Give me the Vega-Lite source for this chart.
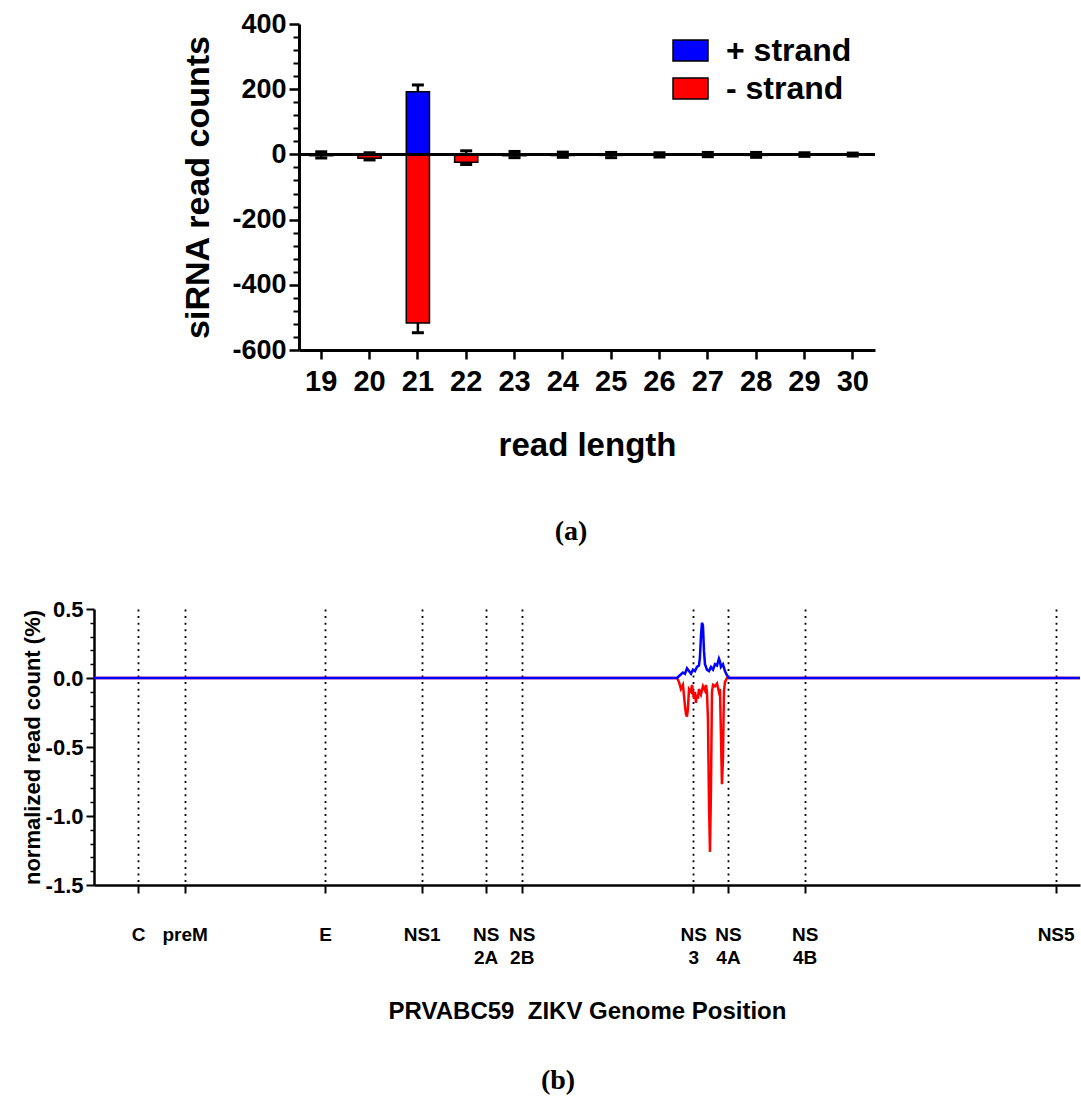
{
  "$schema": "https://vega.github.io/schema/vega-lite/v6.json",
  "background": "white",
  "padding": {"left": 21, "top": 10, "right": 0, "bottom": 0},
  "bounds": "flush",
  "center": true,
  "spacing": 259,
  "config": {
    "view": {"stroke": null},
    "font": "Liberation Sans",
    "axis": {
      "labelFont": "Liberation Sans",
      "titleFont": "Liberation Sans",
      "labelColor": "black",
      "titleColor": "black",
      "domainColor": "black",
      "tickColor": "black",
      "labelFontWeight": "bold",
      "titleFontWeight": "bold",
      "grid": false
    }
  },
  "datasets": {
    "bars": [
      {"length": 19, "strand": "+ strand", "value": 2, "errEnd": 8},
      {"length": 19, "strand": "- strand", "value": -4, "errEnd": -11},
      {"length": 20, "strand": "+ strand", "value": 1, "errEnd": 5},
      {"length": 20, "strand": "- strand", "value": -12, "errEnd": -17},
      {"length": 21, "strand": "+ strand", "value": 192, "errEnd": 213},
      {"length": 21, "strand": "- strand", "value": -517, "errEnd": -547},
      {"length": 22, "strand": "+ strand", "value": 2, "errEnd": 11},
      {"length": 22, "strand": "- strand", "value": -24, "errEnd": -31},
      {"length": 23, "strand": "+ strand", "value": 2, "errEnd": 9},
      {"length": 23, "strand": "- strand", "value": -4, "errEnd": -10},
      {"length": 24, "strand": "+ strand", "value": 1, "errEnd": 7},
      {"length": 24, "strand": "- strand", "value": -3, "errEnd": -9},
      {"length": 25, "strand": "+ strand", "value": 1, "errEnd": 6},
      {"length": 25, "strand": "- strand", "value": -3, "errEnd": -10},
      {"length": 26, "strand": "+ strand", "value": 1, "errEnd": 5},
      {"length": 26, "strand": "- strand", "value": -2, "errEnd": -8},
      {"length": 27, "strand": "+ strand", "value": 1, "errEnd": 6},
      {"length": 27, "strand": "- strand", "value": -2, "errEnd": -7},
      {"length": 28, "strand": "+ strand", "value": 1, "errEnd": 6},
      {"length": 28, "strand": "- strand", "value": -3, "errEnd": -9},
      {"length": 29, "strand": "+ strand", "value": 1, "errEnd": 5},
      {"length": 29, "strand": "- strand", "value": -1, "errEnd": -6},
      {"length": 30, "strand": "+ strand", "value": 1, "errEnd": 4},
      {"length": 30, "strand": "- strand", "value": -1, "errEnd": -5}
    ],
    "plus": [
      {"pos": 0, "val": 0}, {"pos": 6386, "val": 0}, {"pos": 6418, "val": 0.02},
      {"pos": 6451, "val": 0.04}, {"pos": 6473, "val": 0.03}, {"pos": 6495, "val": 0.07},
      {"pos": 6517, "val": 0.05}, {"pos": 6539, "val": 0.03}, {"pos": 6561, "val": 0.06},
      {"pos": 6583, "val": 0.05}, {"pos": 6604, "val": 0.08}, {"pos": 6626, "val": 0.09},
      {"pos": 6637, "val": 0.15}, {"pos": 6648, "val": 0.3}, {"pos": 6659, "val": 0.4},
      {"pos": 6670, "val": 0.38}, {"pos": 6681, "val": 0.2}, {"pos": 6692, "val": 0.1},
      {"pos": 6714, "val": 0.06}, {"pos": 6736, "val": 0.05}, {"pos": 6758, "val": 0.08},
      {"pos": 6780, "val": 0.06}, {"pos": 6802, "val": 0.1}, {"pos": 6824, "val": 0.09},
      {"pos": 6845, "val": 0.14}, {"pos": 6856, "val": 0.12}, {"pos": 6867, "val": 0.08},
      {"pos": 6889, "val": 0.1}, {"pos": 6911, "val": 0.05}, {"pos": 6933, "val": 0.02},
      {"pos": 6955, "val": 0}, {"pos": 10800, "val": 0}
    ],
    "minus": [
      {"pos": 0, "val": 0}, {"pos": 6386, "val": 0}, {"pos": 6408, "val": -0.03},
      {"pos": 6429, "val": -0.08}, {"pos": 6451, "val": -0.05}, {"pos": 6473, "val": -0.2},
      {"pos": 6484, "val": -0.26}, {"pos": 6495, "val": -0.28}, {"pos": 6506, "val": -0.22},
      {"pos": 6517, "val": -0.08}, {"pos": 6539, "val": -0.1}, {"pos": 6550, "val": -0.05},
      {"pos": 6572, "val": -0.15}, {"pos": 6583, "val": -0.1}, {"pos": 6593, "val": -0.18},
      {"pos": 6604, "val": -0.12}, {"pos": 6615, "val": -0.15}, {"pos": 6626, "val": -0.08},
      {"pos": 6648, "val": -0.12}, {"pos": 6670, "val": -0.06}, {"pos": 6692, "val": -0.09},
      {"pos": 6703, "val": -0.05}, {"pos": 6714, "val": -0.1}, {"pos": 6725, "val": -0.3},
      {"pos": 6736, "val": -0.9}, {"pos": 6747, "val": -1.26}, {"pos": 6758, "val": -0.8},
      {"pos": 6769, "val": -0.1}, {"pos": 6780, "val": -0.05}, {"pos": 6802, "val": -0.06},
      {"pos": 6824, "val": -0.04}, {"pos": 6845, "val": -0.1}, {"pos": 6856, "val": -0.08},
      {"pos": 6867, "val": -0.4}, {"pos": 6878, "val": -0.77}, {"pos": 6889, "val": -0.6},
      {"pos": 6900, "val": -0.1}, {"pos": 6911, "val": -0.03}, {"pos": 6933, "val": 0},
      {"pos": 10800, "val": 0}
    ]
  },
  "vconcat": [
    {
      "width": 576,
      "height": 326,
      "title": {"text": "(a)", "orient": "bottom", "font": "Liberation Serif", "fontSize": 28, "fontWeight": "bold", "color": "black", "offset": 56, "dx": -16, "frame": "group", "anchor": "middle"},
      "data": {"name": "bars"},
      "layer": [
        {
          "mark": {"type": "bar", "stroke": "black", "strokeWidth": 1.5},
          "encoding": {
            "x": {
              "field": "length", "type": "ordinal",
              "scale": {"paddingInner": 0.52, "paddingOuter": 0.22},
              "axis": {
                "title": "read length", "labelAngle": 0, "labelFontSize": 29, "titleFontSize": 33,
                "tickSize": 9, "tickWidth": 2.5, "domainWidth": 3, "labelPadding": 8, "titlePadding": 33
              }
            },
            "y": {
              "field": "value", "type": "quantitative", "stack": null,
              "scale": {"domain": [-600, 400], "nice": false},
              "axis": {
                "title": "siRNA read counts", "values": [-600, -400, -200, 0, 200, 400],
                "labelExpr": "replace(datum.label, '\u2212', '-')",
                "labelFontSize": 27, "titleFontSize": 34, "tickSize": 10, "tickWidth": 2.5,
                "domainWidth": 3, "labelPadding": 3, "titlePadding": 16
              }
            },
            "color": {
              "field": "strand", "type": "nominal",
              "scale": {"domain": ["+ strand", "- strand"], "range": ["#0000ff", "#ff0000"]},
              "legend": {
                "orient": "none", "legendX": 578, "legendY": 8, "title": null,
                "symbolType": "M-1,-0.6H1V0.6H-1Z", "symbolSize": 1225,
                "symbolStrokeColor": "black", "symbolStrokeWidth": 1.5, "symbolOpacity": 1,
                "labelFont": "Liberation Sans", "labelFontSize": 32, "labelFontWeight": "bold",
                "labelColor": "black", "labelOffset": 17, "rowPadding": 3
              }
            }
          }
        },
        {
          "mark": {"type": "rule", "color": "black", "strokeWidth": 2.5},
          "encoding": {
            "x": {"field": "length", "type": "ordinal"},
            "y": {"field": "value", "type": "quantitative", "axis": null},
            "y2": {"field": "errEnd"}
          }
        },
        {
          "mark": {"type": "tick", "color": "black", "thickness": 3, "size": 12, "opacity": 1},
          "encoding": {
            "x": {"field": "length", "type": "ordinal"},
            "y": {"field": "errEnd", "type": "quantitative", "axis": null}
          }
        },
        {
          "mark": {"type": "rule", "color": "black", "strokeWidth": 2.5},
          "encoding": {
            "y": {
              "datum": 0, "type": "quantitative",
              "axis": {
                "orient": "left", "title": null, "labels": false, "domain": false,
                "tickSize": 6, "tickWidth": 2,
                "values": [-560, -520, -480, -440, -360, -320, -280, -240, -160, -120, -80, -40, 40, 80, 120, 160, 240, 280, 320, 360]
              }
            }
          }
        }
      ],
      "resolve": {"axis": {"y": "independent"}}
    },
    {
      "width": 986,
      "height": 276,
      "title": {"text": "(b)", "orient": "bottom", "font": "Liberation Serif", "fontSize": 28, "fontWeight": "bold", "color": "black", "offset": 44, "dx": -29, "frame": "group", "anchor": "middle"},
      "layer": [
        {
          "data": {"name": "minus"},
          "mark": {"type": "line", "color": "#ff0000", "strokeWidth": 2.5},
          "encoding": {
            "x": {
              "field": "pos", "type": "quantitative",
              "scale": {"domain": [0, 10800], "nice": false},
              "axis": {
                "title": "PRVABC59\u00a0 ZIKV Genome Position",
                "values": [482, 993, 2530, 3589, 4290, 4685, 6564, 6944, 7784, 10533],
                "labelExpr": "datum.value == 482 ? 'C' : datum.value == 993 ? 'preM' : datum.value == 2530 ? 'E' : datum.value == 3589 ? 'NS1' : datum.value == 4290 ? ['NS','2A'] : datum.value == 4685 ? ['NS','2B'] : datum.value == 6564 ? ['NS','3'] : datum.value == 6944 ? ['NS','4A'] : datum.value == 7784 ? ['NS','4B'] : 'NS5'",
                "labelOverlap": false, "labelFlush": false, "labelFontSize": 19, "labelLineHeight": 23,
                "labelPadding": 32, "tickSize": 8, "tickWidth": 2, "domainWidth": 2.5,
                "grid": true, "gridColor": "black", "gridDash": [2, 4.6], "gridWidth": 1.8,
                "titleFontSize": 24, "titlePadding": 32
              }
            },
            "y": {
              "field": "val", "type": "quantitative",
              "scale": {"domain": [-1.5, 0.5], "nice": false},
              "axis": {
                "title": "normalized read count (%)", "values": [-1.5, -1, -0.5, 0, 0.5], "format": ".1f",
                "labelExpr": "replace(datum.label, '\u2212', '-')",
                "labelFontSize": 22, "titleFontSize": 22, "tickSize": 8, "tickWidth": 2,
                "domainWidth": 2.5, "labelPadding": 3, "titlePadding": 1
              }
            }
          }
        },
        {
          "data": {"name": "plus"},
          "mark": {"type": "line", "color": "#0000ff", "strokeWidth": 2.5},
          "encoding": {
            "x": {"field": "pos", "type": "quantitative"},
            "y": {
              "field": "val", "type": "quantitative",
              "axis": {
                "orient": "left", "title": null, "labels": false, "domain": false,
                "tickSize": 4, "tickWidth": 1.5,
                "values": [-1.4, -1.3, -1.2, -1.1, -0.9, -0.8, -0.7, -0.6, -0.4, -0.3, -0.2, -0.1, 0.1, 0.2, 0.3, 0.4]
              }
            }
          }
        }
      ],
      "resolve": {"axis": {"y": "independent"}}
    }
  ]
}
